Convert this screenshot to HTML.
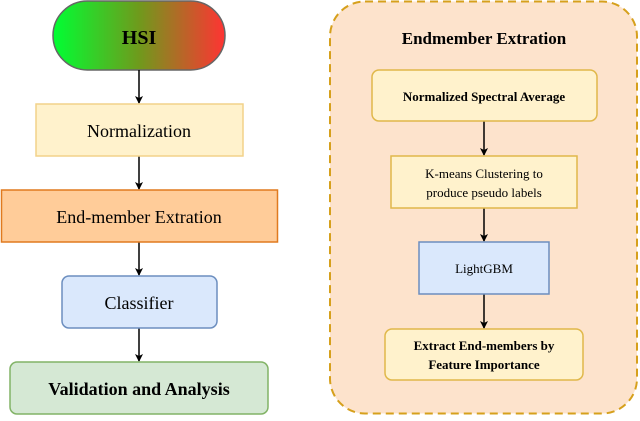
<!DOCTYPE html>
<html><head><style>body{margin:0;background:#fff} svg, svg text{font-family:"Liberation Serif","DejaVu Serif",serif !important}</style></head><body>
<svg width="640" height="416" xmlns="http://www.w3.org/2000/svg" font-family="'Liberation Serif', 'DejaVu Serif', serif" style="font-family:'Liberation Serif','DejaVu Serif',serif">
<defs>
<linearGradient id="g" x1="0" x2="1"><stop offset="0" stop-color="#00ff33"/><stop offset="0.5" stop-color="#6f9a1c"/><stop offset="1" stop-color="#ff3333"/></linearGradient>
<marker id="a" markerWidth="8" markerHeight="8" refX="7" refY="4" orient="auto" markerUnits="userSpaceOnUse"><path d="M0,0 L8,4 L0,8 L2,4z" fill="#000"/></marker>
</defs>
<rect x="330" y="1.5" width="307" height="412" rx="35" fill="#fde3cc" stroke="#d6a01c" stroke-width="2" stroke-dasharray="8,5"/>
<rect x="53" y="1" width="172" height="69" rx="34.5" fill="url(#g)" stroke="#666" stroke-width="1.5"/>
<text x="139" y="44" font-size="20" font-weight="bold" text-anchor="middle">HSI</text>
<g stroke="#000" stroke-width="1.5" marker-end="url(#a)">
<line x1="139" y1="70" x2="139" y2="103"/><line x1="139" y1="156" x2="139" y2="189"/><line x1="139" y1="242" x2="139" y2="275"/><line x1="139" y1="328" x2="139" y2="361"/>
<line x1="484" y1="121" x2="484" y2="155"/><line x1="484" y1="208" x2="484" y2="241"/><line x1="484" y1="294" x2="484" y2="328"/>
</g>
<rect x="36" y="104" width="207" height="52" fill="#fff2cc" stroke="#f2d28a" stroke-width="1.5"/>
<text x="139" y="137" font-size="18" text-anchor="middle">Normalization</text>
<rect x="1.5" y="190" width="276" height="52" fill="#ffcc99" stroke="#e07a1f" stroke-width="1.5"/>
<text x="139" y="223" font-size="18" text-anchor="middle">End-member Extration</text>
<rect x="62" y="276" width="155" height="52" rx="7" fill="#dae8fc" stroke="#6c8ebf" stroke-width="1.5"/>
<text x="139" y="309" font-size="18" text-anchor="middle">Classifier</text>
<rect x="10" y="362" width="258" height="52" rx="7" fill="#d5e8d4" stroke="#82b366" stroke-width="1.5"/>
<text x="139" y="395" font-size="18" font-weight="bold" text-anchor="middle">Validation and Analysis</text>
<text x="484" y="44" font-size="17" font-weight="bold" text-anchor="middle">Endmember Extration</text>
<rect x="372" y="70" width="225" height="51" rx="7" fill="#fff2cc" stroke="#e0b84a" stroke-width="1.5"/>
<text x="484" y="101" font-size="13" font-weight="bold" text-anchor="middle">Normalized Spectral Average</text>
<rect x="391" y="156" width="186" height="52" fill="#fff2cc" stroke="#e0b84a" stroke-width="1.5"/>
<text x="484" y="178" font-size="13" text-anchor="middle">K-means Clustering to</text>
<text x="484" y="197" font-size="13" text-anchor="middle">produce pseudo labels</text>
<rect x="419" y="242" width="130" height="52" fill="#dae8fc" stroke="#6c8ebf" stroke-width="1.5"/>
<text x="484" y="273" font-size="13" text-anchor="middle">LightGBM</text>
<rect x="385" y="329" width="198" height="51" rx="7" fill="#fff2cc" stroke="#e0b84a" stroke-width="1.5"/>
<text x="484" y="350" font-size="13" font-weight="bold" text-anchor="middle">Extract End-members by</text>
<text x="484" y="369" font-size="13" font-weight="bold" text-anchor="middle">Feature Importance</text>
</svg>
</body></html>
